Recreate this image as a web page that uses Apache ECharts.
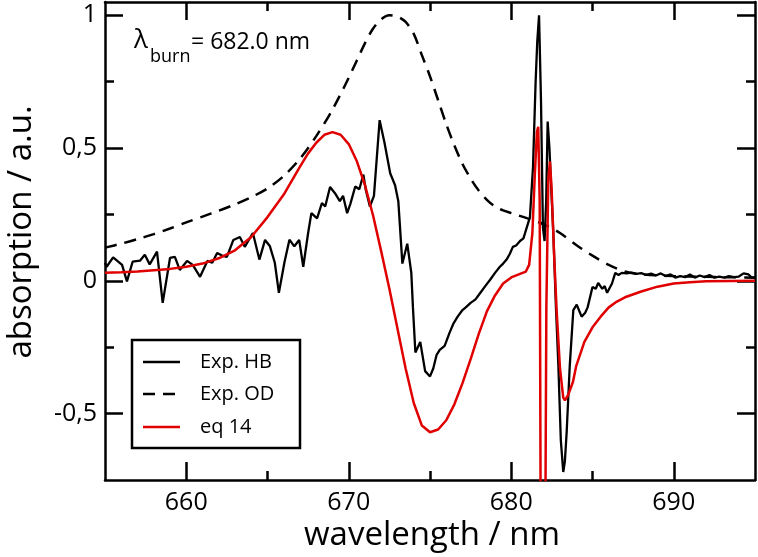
<!DOCTYPE html>
<html>
<head>
<meta charset="utf-8">
<script src="https://cdn.jsdelivr.net/npm/echarts@6/dist/echarts.min.js"></script>
<style>
html,body{margin:0;padding:0;background:#fff;}
#chart{width:758px;height:557px;}
</style>
</head>
<body>
<div id="chart"></div>
<script>
// ---- data ----
const hbWavelength = [655.0,655.1,655.5,656.05,656.35,656.7,657.15,657.45,657.75,658.2,658.55,659.0,659.3,659.6,660.05,660.4,660.85,661.3,661.6,661.9,662.2,662.5,662.9,663.3,663.6,664.1,664.5,664.85,665.15,665.45,665.7,666.05,666.35,666.65,666.95,667.2,667.5,667.7,668.05,668.35,668.55,668.85,669.15,669.45,669.65,669.9,670.1,670.4,670.65,670.9,671.05,671.3,671.55,671.9,672.2,672.55,672.85,673.05,673.3,673.6,673.85,673.95,674.1,674.4,674.7,675.0,675.2,675.4,675.6,675.9,676.2,676.45,676.7,677.0,677.2,677.5,677.8,678.1,678.4,678.7,679.0,679.3,679.5,679.7,679.9,680.1,680.3,680.54,680.75,680.9,681.15,681.34,681.5,681.6,681.71,681.83,681.95,682.05,682.15,682.24,682.35,682.45,682.59,682.75,682.9,683.05,683.2,683.3,683.41,683.6,683.82,684.03,684.33,684.55,684.7,685.0,685.2,685.35,685.6,685.75,685.9,686.2,686.4,686.6,686.8,687.1,687.4,687.7,688.0,688.3,688.6,688.9,689.2,689.5,689.8,690.1,690.4,690.7,691.0,691.3,691.6,691.9,692.2,692.5,692.8,693.1,693.4,693.7,694.0,694.3,694.6,694.8,695.0];
const hbAbsorption = [0.068,0.053,0.088,0.06,-0.002,0.072,0.076,0.098,0.062,0.11,-0.083,0.086,0.09,0.041,0.075,0.06,0.015,0.075,0.068,0.105,0.095,0.09,0.154,0.165,0.128,0.18,0.08,0.154,0.13,0.068,-0.045,0.072,0.155,0.13,0.154,0.053,0.18,0.255,0.235,0.293,0.28,0.353,0.33,0.30,0.32,0.255,0.29,0.355,0.345,0.40,0.342,0.28,0.32,0.605,0.52,0.405,0.36,0.30,0.065,0.14,0.03,-0.1,-0.27,-0.23,-0.34,-0.36,-0.33,-0.28,-0.26,-0.245,-0.196,-0.16,-0.135,-0.11,-0.1,-0.083,-0.07,-0.045,-0.02,0.004,0.03,0.053,0.065,0.079,0.1,0.128,0.133,0.15,0.16,0.19,0.24,0.43,0.75,0.9,1.0,0.68,0.2,0.15,0.3,0.6,0.5,0.36,0.18,-0.1,-0.32,-0.6,-0.72,-0.68,-0.57,-0.32,-0.11,-0.09,-0.135,-0.12,-0.1,-0.023,-0.03,-0.008,-0.03,-0.02,-0.045,-0.01,0.03,0.022,0.03,0.028,0.031,0.026,0.029,0.022,0.027,0.02,0.028,0.018,0.024,0.012,0.018,0.014,0.024,0.012,0.02,0.014,0.022,0.012,0.016,0.012,0.018,0.014,0.016,0.028,0.024,0.012,0.014];

const odWavelength = [655,656,657,658,659,660,661,662,663,664,665,666,667,668,669,670,671,671.5,672,672.5,673,673.5,674,674.5,675,675.5,676,676.5,677,677.5,678,678.5,679,679.5,680,681,682,683,684,685,686,687,688,690,692,695];
const odAbsorption = [0.125,0.14,0.157,0.176,0.197,0.22,0.242,0.264,0.288,0.315,0.348,0.395,0.46,0.545,0.645,0.765,0.895,0.95,0.985,1.0,0.995,0.975,0.93,0.85,0.77,0.68,0.59,0.51,0.44,0.385,0.34,0.305,0.28,0.265,0.255,0.235,0.213,0.18,0.135,0.095,0.06,0.035,0.025,0.018,0.015,0.012];

const eqWavelength = [655,656,657,658,659,660,661,662,663,664,665,666,667,667.5,668,668.5,669,669.5,670,670.5,671,671.5,672,672.5,673,673.5,674,674.5,675,675.5,676,676.5,677,677.5,678,678.5,679,679.5,680,680.5,680.9,681.1,681.3,681.45,681.58,681.66,681.75,681.81,681.95,682.1,682.16,682.28,682.38,682.48,682.65,682.8,683.0,683.2,683.3,683.5,683.8,684.0,684.5,685.0,685.5,686,686.5,687,688,689,690,691,692,695];
const eqAbsorption = [0.03,0.032,0.035,0.04,0.045,0.053,0.065,0.085,0.115,0.165,0.24,0.325,0.43,0.48,0.52,0.55,0.56,0.55,0.515,0.45,0.36,0.245,0.11,-0.03,-0.18,-0.33,-0.46,-0.545,-0.57,-0.56,-0.525,-0.465,-0.385,-0.295,-0.2,-0.115,-0.055,-0.01,0.013,0.025,0.035,0.06,0.18,0.4,0.56,0.58,0.3,-0.9,-3.0,-0.9,-0.1,0.38,0.45,0.35,0.08,-0.12,-0.33,-0.44,-0.45,-0.43,-0.38,-0.32,-0.23,-0.175,-0.135,-0.1,-0.078,-0.062,-0.04,-0.022,-0.01,-0.005,-0.002,0];

const xMajorTicks = [660,670,680,690];
const xMinorTicks = [665,675,685];
const yMajorTicks = [-0.5,0,0.5,1];
const yMinorTicks = [-0.25,0.25,0.75];
const legendNames = ['Exp. HB','Exp. OD','eq 14'];

// ---- chart ----
const FONT = 'Open Sans';
const zip = (xs, ys) => xs.map((x, i) => [x, ys[i]]);
const gridRect = {left:105, right:3, top:2, bottom:77};
const X_MIN = 655, X_MAX = 695, Y_MIN = -0.75, Y_MAX = 1.05;
const axisLineStyle = {color:'#000', width:2.5};
const RED = '#e00000';
const DASH = [12,8];

function xAx(gridIndex, position, ticks, len, showLine, showLabel) {
  return {
    type:'value', gridIndex, position, min:X_MIN, max:X_MAX,
    axisLine:{show:showLine, onZero:false, lineStyle:axisLineStyle},
    axisTick:{show:true, inside:true, length:len, customValues:ticks, lineStyle:{color:'#000', width:2.5}},
    axisLabel:{show:showLabel, customValues:ticks, color:'#000', fontFamily:FONT, fontSize:25, margin:10},
    splitLine:{show:false}
  };
}
function yAx(gridIndex, position, ticks, len, showLine, showLabel) {
  return {
    type:'value', gridIndex, position, min:Y_MIN, max:Y_MAX,
    axisLine:{show:showLine, onZero:false, lineStyle:axisLineStyle},
    axisTick:{show:true, inside:true, length:len, customValues:ticks, lineStyle:{color:'#000', width:2.5}},
    axisLabel:{show:showLabel, customValues:ticks, color:'#000', fontFamily:FONT, fontSize:25, margin:8,
      formatter: v => String(v).replace('.', ',')},
    splitLine:{show:false}
  };
}

// legend drawn as graphic (box, line samples, labels)
const LG = {x:132, y:340, w:168, h:108, rows:[362,394,427], lx0:143, lx1:180, tx:200};
const legendStyles = [
  {stroke:'#000', lineWidth:2.5},
  {stroke:'#000', lineWidth:2.5, lineDash:DASH},
  {stroke:RED, lineWidth:2.5}
];
const legendGraphics = [
  {type:'rect', shape:{x:LG.x, y:LG.y, width:LG.w, height:LG.h}, style:{fill:'#fff', stroke:'#000', lineWidth:2.5}, z:100}
];
legendNames.forEach((n, i) => {
  legendGraphics.push({type:'line', shape:{x1:LG.lx0, y1:LG.rows[i], x2:LG.lx1, y2:LG.rows[i]}, style:legendStyles[i], z:101});
  legendGraphics.push({type:'text', x:LG.tx, y:LG.rows[i], style:{text:n, font:'20px "Open Sans"', fill:'#000', textVerticalAlign:'middle', textAlign:'left'}, z:101});
});

const chart = echarts.init(document.getElementById('chart'), null, {renderer:'canvas'});
chart.setOption({
  animation:false,
  backgroundColor:'#fff',
  grid:[Object.assign({}, gridRect), Object.assign({}, gridRect), Object.assign({}, gridRect), Object.assign({}, gridRect)],
  xAxis:[
    xAx(0,'bottom',xMajorTicks,18,true,true),
    xAx(1,'top',xMajorTicks,18,true,false),
    xAx(2,'bottom',xMinorTicks,9,false,false),
    xAx(3,'top',xMinorTicks,9,false,false)
  ],
  yAxis:[
    yAx(0,'left',yMajorTicks,18,true,true),
    yAx(1,'right',yMajorTicks,18,true,false),
    yAx(2,'left',yMinorTicks,9,false,false),
    yAx(3,'right',yMinorTicks,9,false,false)
  ],
  series:[
    {name:legendNames[0], type:'line', xAxisIndex:0, yAxisIndex:0, data:zip(hbWavelength, hbAbsorption),
     symbol:'none', lineStyle:{color:'#000', width:2.3}, itemStyle:{color:'#000'}, clip:true},
    {name:legendNames[1], type:'line', xAxisIndex:0, yAxisIndex:0, data:zip(odWavelength, odAbsorption), smooth:0.3,
     symbol:'none', lineStyle:{color:'#000', width:2.5, type:DASH}, itemStyle:{color:'#000'}, clip:true},
    {name:legendNames[2], type:'line', xAxisIndex:0, yAxisIndex:0, data:zip(eqWavelength, eqAbsorption),
     symbol:'none', lineStyle:{color:RED, width:2.5}, itemStyle:{color:RED}, clip:true}
  ],
  graphic:[
    {type:'text', x:134, y:41, style:{text:'λ', font:'26px "Open Sans"', fill:'#000', textVerticalAlign:'middle', textAlign:'left'}},
    {type:'text', x:150, y:57, style:{text:'burn', font:'18px "Open Sans"', fill:'#000', textVerticalAlign:'middle', textAlign:'left'}},
    {type:'text', x:191, y:42, style:{text:'= 682.0 nm', font:'23px "Open Sans"', fill:'#000', textVerticalAlign:'middle', textAlign:'left'}},
    {type:'text', x:432, y:536, style:{text:'wavelength / nm', font:'33px "Open Sans"', fill:'#000', textVerticalAlign:'middle', textAlign:'center'}},
    {type:'text', x:22, y:232, rotation:Math.PI/2, style:{text:'absorption / a.u.', font:'33px "Open Sans"', fill:'#000', textVerticalAlign:'middle', textAlign:'center'}}
  ].concat(legendGraphics)
});
</script>
</body>
</html>
